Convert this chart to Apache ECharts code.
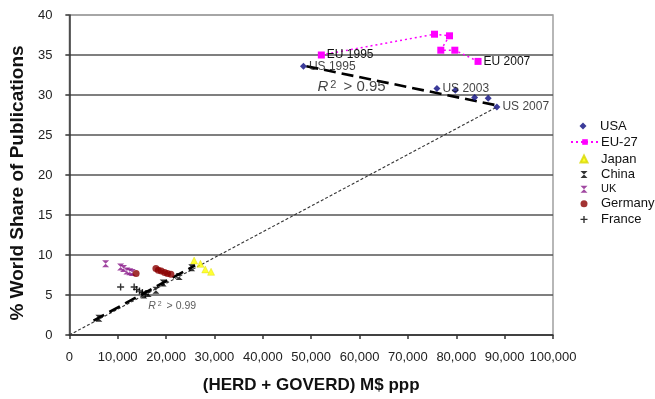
<!DOCTYPE html>
<html>
<head>
<meta charset="utf-8">
<script src="https://cdn.jsdelivr.net/npm/echarts@6/dist/echarts.min.js"></script>
<style>
html,body{margin:0;padding:0;background:#fff;}
#chart{width:655px;height:399px;}
</style>
</head>
<body>
<div id="chart"></div>
<script>
// ---- data ----
const xTicks = [0, 10000, 20000, 30000, 40000, 50000, 60000, 70000, 80000, 90000, 100000];
const yTicks = [0, 5, 10, 15, 20, 25, 30, 35, 40];

const usaX = [48400, 76000, 79800, 83800, 86600, 88400];
const usaY = [33.6, 30.8, 30.6, 29.7, 29.6, 28.5];
const usaLabels = ['US 1995', 'US 2003', '', '', '', 'US 2007'];

const euX = [52100, 75500, 78600, 76800, 79700, 84500];
const euY = [35.0, 37.6, 37.4, 35.6, 35.6, 34.2];
const euLabels = ['EU 1995', '', '', '', '', 'EU 2007'];

const japanX = [25800, 27100, 28100, 29300];
const japanY = [9.3, 8.9, 8.2, 7.9];

const chinaX = [6100, 15400, 16300, 17900, 19400, 22700, 25300];
const chinaY = [2.1, 5.0, 5.2, 5.6, 6.5, 7.3, 8.4];

const ukX = [7500, 10600, 11200, 11900, 12500, 13000];
const ukY = [8.9, 8.5, 8.3, 8.0, 7.9, 7.8];

const germanyX = [13800, 17900, 18400, 19000, 19700, 20300, 21000];
const germanyY = [7.7, 8.3, 8.1, 8.0, 7.8, 7.7, 7.6];

const franceX = [10600, 13400, 13900, 14500, 15100, 15700];
const franceY = [6.0, 6.0, 5.7, 5.5, 5.3, 5.1];

// trend lines
const usTrendX = [49000, 88400];
const usTrendY = [33.6, 28.7];
const chinaTrendX = [5000, 26000];
const chinaTrendY = [1.8, 8.7];
const originLineX = [0, 88400];
const originLineY = [0, 28.5];

// annotations
const annX = [51300, 16300];
const annY = [31.0, 3.6];
const annValue = ['0.95', '0.99'];

// ---- helpers ----
const zip = (xs, ys) => xs.map((x, i) => [x, ys[i]]);
const hourglass = 'path://M0,0L10,0L5,5L10,10L0,10L5,5Z';
const plus = 'path://M4,0H6V4H10V6H6V10H4V6H0V4H4Z';
const FONT = 'Liberation Sans, Arial, sans-serif';

function labeled(xs, ys, labels) {
  return xs.map((x, i) => {
    const item = { value: [x, ys[i]] };
    if (labels[i]) {
      item.label = {
        show: true, formatter: labels[i], position: 'right', distance: 2,
        color: '#111', fontSize: 12, fontFamily: FONT
      };
    }
    return item;
  });
}

const legendText = { fontSize: 13, color: '#111', fontFamily: FONT };

const chart = echarts.init(document.getElementById('chart'), null, { renderer: 'canvas' });

const option = {
  animation: false,
  backgroundColor: '#fff',
  textStyle: { fontFamily: FONT },
  grid: {
    left: 68, right: 102, top: 15, bottom: 61,
    show: true, borderColor: '#a0a0a0', borderWidth: 1.5, backgroundColor: 'transparent'
  },
  legend: [
    {
      orient: 'vertical', left: 574.5, top: 114.5,
      itemWidth: 7, itemHeight: 7, itemGap: 2,
      textStyle: Object.assign({}, legendText, { padding: [0, 0, 0, 8.5] }),
      data: ['USA']
    },
    {
      orient: 'vertical', left: 565, top: 130.5,
      itemWidth: 28, itemHeight: 7, itemGap: 2,
      textStyle: Object.assign({}, legendText, { padding: [0, 0, 0, -3] }),
      data: ['EU-27']
    },
    {
      orient: 'vertical', left: 574.5, top: 147.5,
      itemWidth: 7, itemHeight: 7, itemGap: 2.6,
      textStyle: Object.assign({}, legendText, { padding: [0, 0, 0, 8.5] }),
      data: [
        { name: 'Japan' }, { name: 'China' },
        { name: 'UK', textStyle: { fontSize: 11 } }, { name: 'Germany' }, { name: 'France' }
      ]
    }
  ],
  xAxis: {
    type: 'value', min: 0, max: 100000, interval: 10000,
    name: '(HERD + GOVERD) M$ ppp', nameLocation: 'middle', nameGap: 42,
    nameTextStyle: { fontSize: 17, fontWeight: 'bold', color: '#111', fontFamily: FONT },
    axisLine: { show: true, onZero: false, lineStyle: { color: '#333', width: 1.5 } },
    axisTick: { show: true, inside: false, length: 4, lineStyle: { color: '#333', width: 1.5 } },
    axisLabel: {
      fontSize: 13, color: '#222', margin: 16, fontFamily: FONT,
      formatter: v => v.toLocaleString('en-US')
    },
    splitLine: { show: false }
  },
  yAxis: {
    type: 'value', min: 0, max: 40, interval: 5,
    name: '% World Share of Publications', nameLocation: 'middle', nameGap: 31,
    nameTextStyle: {
      fontSize: 19, fontWeight: 'bold', color: '#111', fontFamily: FONT,
      padding: [0, 16, 0, 0]
    },
    axisLine: { show: true, onZero: false, lineStyle: { color: '#333', width: 1.5 } },
    axisTick: { show: true, inside: false, length: 4, lineStyle: { color: '#333', width: 1.5 } },
    axisLabel: { fontSize: 13, color: '#222', margin: 17, fontFamily: FONT },
    splitLine: {
      show: true,
      lineStyle: {
        color: ['#555', '#555', '#555', '#555', '#555', '#555', '#555', '#555', '#a0a0a0'],
        width: 1.5
      }
    }
  },
  series: [
    {
      name: 'originLine', type: 'line', data: zip(originLineX, originLineY),
      symbol: 'none', silent: true, z: 1,
      lineStyle: { color: '#333', width: 1.1, type: [3, 2] }
    },
    {
      name: 'usTrend', type: 'line', data: zip(usTrendX, usTrendY),
      symbol: 'none', silent: true, z: 3,
      lineStyle: { color: '#000', width: 2.6, type: [12, 6] }
    },
    {
      name: 'chinaTrend', type: 'line', data: zip(chinaTrendX, chinaTrendY),
      symbol: 'none', silent: true, z: 3,
      lineStyle: { color: '#000', width: 2.6, type: [12, 6] }
    },
    {
      name: 'USA', type: 'scatter', z: 4,
      data: labeled(usaX, usaY, usaLabels),
      symbol: 'diamond', symbolSize: 7,
      itemStyle: { color: '#0a0a80' }
    },
    {
      name: 'EU-27', type: 'line', z: 4,
      data: labeled(euX, euY, euLabels),
      symbol: 'rect', symbolSize: 7, showSymbol: true,
      itemStyle: { color: '#ff00ff' },
      lineStyle: { color: '#ff00ff', width: 1.5, type: [2, 3] }
    },
    {
      name: 'Japan', type: 'scatter', z: 4, data: zip(japanX, japanY),
      symbol: 'triangle', symbolSize: 7,
      itemStyle: { color: '#ffff00', borderColor: '#d8d800', borderWidth: 0.5 }
    },
    {
      name: 'China', type: 'scatter', z: 5, data: zip(chinaX, chinaY),
      symbol: hourglass, symbolSize: 7,
      itemStyle: { color: '#000' }
    },
    {
      name: 'UK', type: 'scatter', z: 4, data: zip(ukX, ukY),
      symbol: hourglass, symbolSize: 7,
      itemStyle: { color: '#8a1a8a' }
    },
    {
      name: 'Germany', type: 'scatter', z: 4, data: zip(germanyX, germanyY),
      symbol: 'circle', symbolSize: 7,
      itemStyle: { color: '#8b0000' }
    },
    {
      name: 'France', type: 'scatter', z: 4, data: zip(franceX, franceY),
      symbol: plus, symbolSize: 7,
      itemStyle: { color: '#000' }
    },
    {
      name: 'annotations', type: 'scatter', z: 6, silent: true,
      symbolSize: 0,
      data: annX.map((x, i) => {
        const big = i === 0;
        const fs = big ? 15 : 10.5;
        const col = big ? '#111' : '#333';
        return {
          value: [x, annY[i]],
          label: {
            show: true, position: 'right', distance: 0,
            formatter: '{r|R}{s|2}{t| > ' + annValue[i] + '}',
            rich: {
              r: { fontSize: fs, fontStyle: 'italic', color: col, fontFamily: FONT },
              s: { fontSize: big ? 11 : 7, color: col, fontFamily: FONT,
                   verticalAlign: 'top', padding: [0, big ? 3 : 2, 0, 2] },
              t: { fontSize: fs, color: col, fontFamily: FONT }
            }
          }
        };
      })
    }
  ]
};

chart.setOption(option);
</script>
</body>
</html>
